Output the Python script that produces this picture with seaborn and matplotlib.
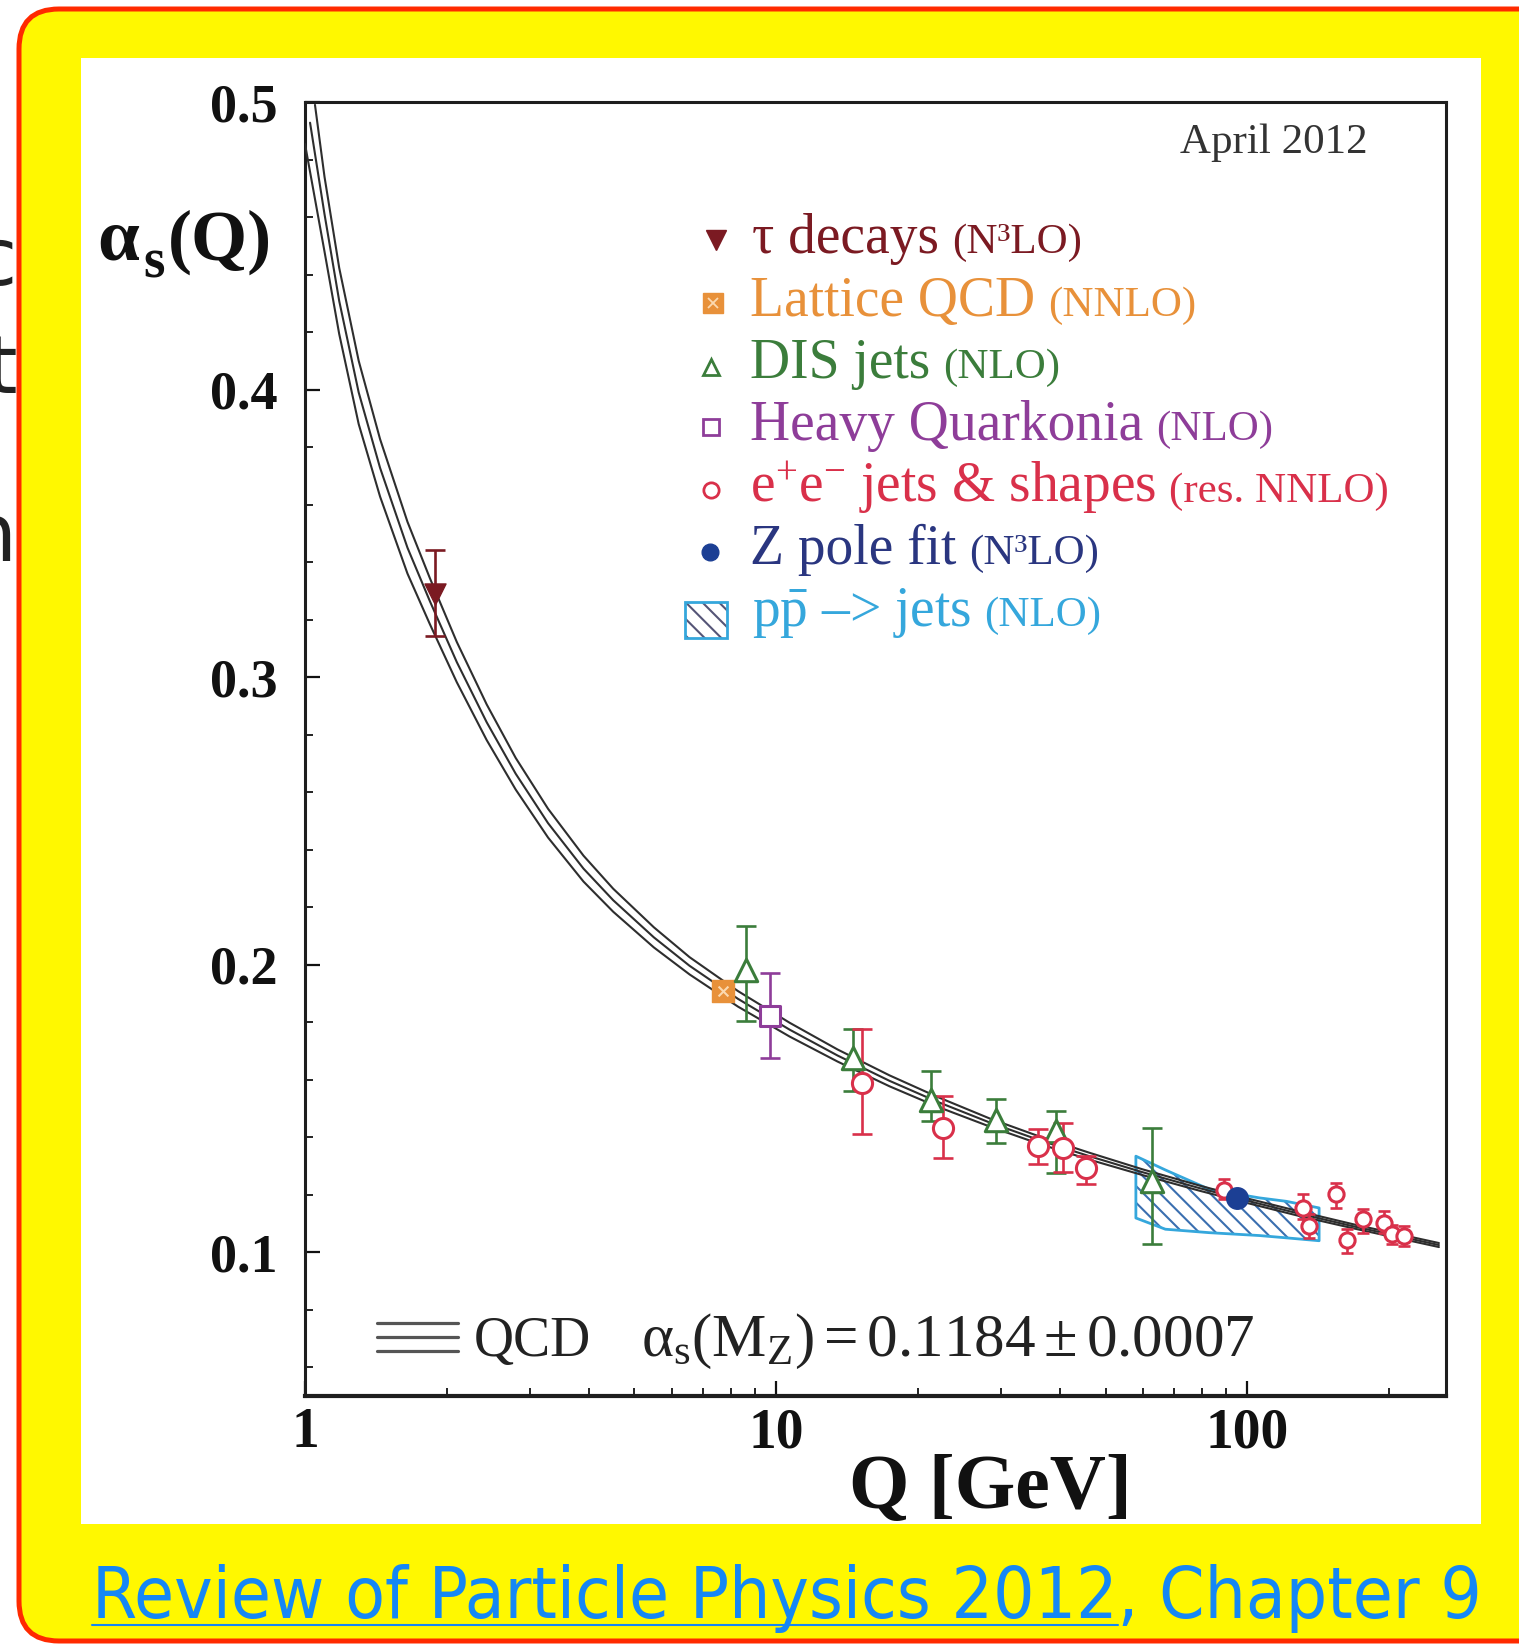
import numpy as np
import matplotlib
matplotlib.use("Agg")
import matplotlib.pyplot as plt
import seaborn as sns
from matplotlib.patches import FancyBboxPatch, Rectangle
from matplotlib.transforms import IdentityTransform
from matplotlib.lines import Line2D
from matplotlib.ticker import MultipleLocator, LogLocator, NullFormatter

W, H = 1519, 1645

# ---------------- data ----------------
# QCD running coupling: three lines (lower edge, central, upper edge)
Q_curve = [1.1, 1.182, 1.3, 1.443, 1.65, 1.841, 2.1, 2.43, 2.8, 3.28, 3.9, 4.51,
           5.5, 6.55, 8.3, 10.68, 13.5, 17.4, 22, 28.4, 36, 46.2, 60, 79.1,
           100, 128.9, 170, 255]
alpha_mid = [0.461, 0.4308, 0.399, 0.3728, 0.345, 0.3264, 0.3052, 0.2843, 0.2664,
             0.2492, 0.2334, 0.2224, 0.2095, 0.1996, 0.1881, 0.1774, 0.1684,
             0.1596, 0.1523, 0.1451, 0.1391, 0.1334, 0.1278, 0.1223, 0.1179,
             0.1134, 0.1088, 0.1025]
alpha_lo = [0.448, 0.4193, 0.388, 0.3628, 0.336, 0.3184, 0.2982, 0.2781, 0.2609,
            0.2442, 0.2289, 0.2184, 0.2060, 0.1966, 0.1854, 0.1750, 0.1663,
            0.1577, 0.1506, 0.1437, 0.1378, 0.1322, 0.1268, 0.1214, 0.1171,
            0.1126, 0.1081, 0.1018]
alpha_hi = [0.474, 0.4423, 0.410, 0.3828, 0.354, 0.3344, 0.3122, 0.2905, 0.2719,
            0.2542, 0.2379, 0.2264, 0.2130, 0.2026, 0.1908, 0.1798, 0.1705,
            0.1615, 0.1540, 0.1465, 0.1404, 0.1346, 0.1288, 0.1232, 0.1187,
            0.1142, 0.1095, 0.1032]
Q_start = [1.0, 1.025, 1.05]          # first point of lo / mid / hi line
alpha_start = [0.4854, 0.4928, 0.499]

# tau decays
tau_Q = [1.887]
tau_a = [0.3288]
tau_lo = [0.3143]
tau_hi = [0.3442]
# Lattice QCD
lat_Q = [7.71]
lat_a = [0.1908]
# DIS jets
dis_Q = [8.62, 14.55, 21.3, 29.3, 39.3, 62.6]
dis_a = [0.1983, 0.1676, 0.1531, 0.1460, 0.1420, 0.1247]
dis_lo = [0.1804, 0.1560, 0.1456, 0.1380, 0.1276, 0.1028]
dis_hi = [0.2134, 0.1775, 0.1630, 0.1532, 0.1490, 0.1432]
# Heavy quarkonia
hq_Q = [9.69]
hq_a = [0.182]
hq_lo = [0.1676]
hq_hi = [0.1972]
# e+e- jets & shapes
ee_Q = [15.2, 22.6, 35.9, 40.6, 45.5, 89.4, 131, 135, 154, 162.5, 175.7, 195, 203, 215]
ee_a = [0.1589, 0.1432, 0.1369, 0.1363, 0.1293, 0.1218, 0.1154, 0.1090, 0.1201,
        0.1041, 0.1114, 0.1102, 0.1062, 0.1056]
ee_lo = [0.1410, 0.1328, 0.1306, 0.1280, 0.1236, 0.1185, 0.1115, 0.1050, 0.1154,
         0.0998, 0.1067, 0.1067, 0.1027, 0.1021]
ee_hi = [0.1776, 0.1543, 0.1428, 0.1450, 0.1334, 0.1254, 0.1201, 0.1132, 0.1241,
         0.1080, 0.1149, 0.1143, 0.1096, 0.1091]
# Z pole fit
z_Q = [95]
z_a = [0.1189]
# p pbar -> jets band
pp_Q = [58, 67, 83, 106, 121, 142]
pp_lo = [0.1119, 0.1080, 0.1068, 0.1058, 0.1050, 0.1040]
pp_hi = [0.1334, 0.1286, 0.1219, 0.1189, 0.1177, 0.1154]

y_ticks = [0.1, 0.2, 0.3, 0.4, 0.5]
y_ticklabels = ["0.1", "0.2", "0.3", "0.4", "0.5"]
x_ticks = [1, 10, 100]
x_ticklabels = ["1", "10", "100"]

legend_main = ["τ decays", "Lattice QCD", "DIS jets", "Heavy Quarkonia",
               r"e$^{+}$e$^{-}$ jets & shapes", "Z pole fit", r"p$\bar{\mathrm{p}}$ –> jets"]
legend_order = ["(N³LO)", "(NNLO)", "(NLO)", "(NLO)", "(res. NNLO)", "(N³LO)", "(NLO)"]

# ---------------- style ----------------
sns.set_theme(style="white")
plt.rcParams["font.family"] = ["Liberation Serif", "DejaVu Serif"]
plt.rcParams["mathtext.fontset"] = "custom"
plt.rcParams["mathtext.rm"] = "Liberation Serif"
plt.rcParams["mathtext.it"] = "Liberation Serif:italic"
plt.rcParams["mathtext.bf"] = "Liberation Serif:bold"
plt.rcParams["hatch.linewidth"] = 1.5

C_TAU = "#7b1a22"
C_LAT = "#e8913a"
C_DIS = "#3b7d3b"
C_HQ = "#8e3d99"
C_EE = "#d9304a"
C_Z = "#1c3f94"
C_ZT = "#2a3680"
C_PP = "#35a7dc"
C_PPH = "#3a6fb0"
C_CURVE = "#2e2e2e"

fig = plt.figure(figsize=(W / 100, H / 100), dpi=100)
fig.patch.set_facecolor("white")
PX = IdentityTransform()


def fx(x):
    return x / W


def fy(y):
    return 1 - y / H


# fragments of slide text at the very left edge (cut off in the original too)
for ch, yb in (("c", 285), ("t", 393), ("n", 561)):
    fig.text(fx(17), fy(yb), ch, ha="right", va="baseline", fontsize=58,
             family="DejaVu Sans", color="#222222", zorder=0)

# yellow rounded box with red border
box = FancyBboxPatch((19, H - 1641), 1560 - 19, 1641 - 9,
                     boxstyle="round,pad=0,rounding_size=40", transform=PX,
                     facecolor="#fff800", edgecolor="#ff2a00", linewidth=3.6, zorder=1)
fig.add_artist(box)
# white panel
panel = Rectangle((81, H - 1524), 1400, 1466, transform=PX, facecolor="white",
                  edgecolor="none", zorder=2)
fig.add_artist(panel)

# ---------------- axes ----------------
ax = fig.add_axes([fx(305), fy(1396), (1446 - 305) / W, (1396 - 102) / H])
ax.set_zorder(5)
ax.patch.set_alpha(0)
ax.set_xscale("log")
ax.set_xlim(1, 264)
ax.set_ylim(0.05, 0.5)

# p pbar band (hatch then outline)
ax.fill_between(pp_Q, pp_lo, pp_hi, facecolor="none", edgecolor=C_PPH, hatch="\\\\",
                linewidth=0, zorder=2)
ax.fill_between(pp_Q, pp_lo, pp_hi, facecolor="none", edgecolor=C_PP,
                linewidth=2.0, zorder=2.1)

# QCD curves
for i, arr in enumerate((alpha_lo, alpha_mid, alpha_hi)):
    sns.lineplot(x=[Q_start[i]] + Q_curve, y=[alpha_start[i]] + arr, ax=ax,
                 color=C_CURVE, linewidth=1.5, estimator=None, sort=False,
                 legend=False, zorder=3)


def ebar(Q, a, lo, hi, color, cap, lw=1.9):
    Q = np.asarray(Q, float)
    a = np.asarray(a, float)
    ax.errorbar(Q, a, yerr=[a - np.asarray(lo), np.asarray(hi) - a], fmt="none",
                ecolor=color, elinewidth=lw, capsize=cap, capthick=lw, zorder=4)


ebar(tau_Q, tau_a, tau_lo, tau_hi, C_TAU, 7)
ebar(dis_Q, dis_a, dis_lo, dis_hi, C_DIS, 7)
ebar(hq_Q, hq_a, hq_lo, hq_hi, C_HQ, 7)
ee_Q_arr = np.array(ee_Q)
big = ee_Q_arr < 60
ebar(ee_Q_arr[big], np.array(ee_a)[big], np.array(ee_lo)[big], np.array(ee_hi)[big], C_EE, 7)
ebar(ee_Q_arr[~big], np.array(ee_a)[~big], np.array(ee_lo)[~big], np.array(ee_hi)[~big], C_EE, 4.5)

sns.scatterplot(x=tau_Q, y=tau_a, ax=ax, marker="v", s=230, color=C_TAU,
                edgecolor=C_TAU, linewidth=1, zorder=6, legend=False)
sns.scatterplot(x=lat_Q, y=lat_a, ax=ax, marker="s", s=260, color=C_LAT,
                edgecolor=C_LAT, linewidth=1, zorder=6, legend=False)
sns.scatterplot(x=lat_Q, y=lat_a, ax=ax, marker="x", s=50, color="#fbd9b0",
                linewidth=1.5, zorder=7, legend=False)
sns.scatterplot(x=dis_Q, y=dis_a, ax=ax, marker="^", s=260, color="white",
                edgecolor=C_DIS, linewidth=2.2, zorder=6, legend=False)
sns.scatterplot(x=hq_Q, y=hq_a, ax=ax, marker="s", s=220, color="white",
                edgecolor=C_HQ, linewidth=2.2, zorder=6, legend=False)
sns.scatterplot(x=ee_Q_arr[big], y=np.array(ee_a)[big], ax=ax, marker="o", s=210,
                color="white", edgecolor=C_EE, linewidth=2.2, zorder=6, legend=False)
sns.scatterplot(x=ee_Q_arr[~big], y=np.array(ee_a)[~big], ax=ax, marker="o", s=120,
                color="white", edgecolor=C_EE, linewidth=2.2, zorder=6, legend=False)
sns.scatterplot(x=z_Q, y=z_a, ax=ax, marker="o", s=240, color=C_Z,
                edgecolor=C_Z, linewidth=1, zorder=7, legend=False)

# ticks and spines
ax.set_xticks(x_ticks)
ax.set_xticklabels(x_ticklabels, fontsize=40, fontweight="bold", color="#111111")
ax.xaxis.set_minor_locator(LogLocator(base=10, subs=np.arange(2, 10)))
ax.xaxis.set_minor_formatter(NullFormatter())
ax.set_yticks(y_ticks)
ax.set_yticklabels(y_ticklabels, fontsize=39, fontweight="bold", color="#111111")
ax.yaxis.set_minor_locator(MultipleLocator(0.02))
ax.tick_params(axis="both", which="major", direction="in", length=11, width=1.6,
               color="#111111", top=False, right=False, bottom=True, left=True)
ax.tick_params(axis="both", which="minor", direction="in", length=6, width=1.3,
               color="#111111", top=False, right=False, bottom=True, left=True)
ax.tick_params(axis="y", which="major", pad=20)
ax.tick_params(axis="x", which="major", pad=8)
for name, sp in ax.spines.items():
    sp.set_visible(True)
    sp.set_color("#1e1e1e")
    sp.set_linewidth(3.0 if name == "bottom" else 2.2)
ax.set_xlabel("")
ax.set_ylabel("")

# axis labels
fig.text(fx(990), fy(1508), "Q [GeV]", ha="center", va="baseline", fontsize=56,
         fontweight="bold", color="#111111", zorder=10)
fig.text(fx(97), fy(260), "α", ha="left", va="baseline", fontsize=54,
         fontweight="bold", color="#111111", zorder=10)
fig.text(fx(143), fy(278), "s", ha="left", va="baseline", fontsize=40,
         fontweight="bold", color="#111111", zorder=10)
fig.text(fx(168), fy(260), "(Q)", ha="left", va="baseline", fontsize=52,
         fontweight="bold", color="#111111", zorder=10)

# date
fig.text(fx(1180), fy(153), "April 2012", ha="left", va="baseline", fontsize=31,
         color="#333333", zorder=10)

# legend
renderer = fig.canvas.get_renderer()
row_base = [253, 316, 378, 440, 502, 564, 626]
row_col = [C_TAU, C_LAT, C_DIS, C_HQ, C_EE, C_ZT, C_PP]
text_x = [752, 750, 750, 750, 750, 750, 752]
for i in range(7):
    t = fig.text(fx(text_x[i]), fy(row_base[i]), legend_main[i], ha="left",
                 va="baseline", fontsize=40, color=row_col[i], zorder=10)
    bb = t.get_window_extent(renderer)
    fig.text((bb.x1 + 13) / W, fy(row_base[i]), legend_order[i], ha="left",
             va="baseline", fontsize=31, color=row_col[i], zorder=10)

lm = dict(transform=PX, zorder=10, linestyle="none")
fig.add_artist(Line2D([716], [H - 240], marker="v", markersize=15, color=C_TAU,
                      markeredgecolor=C_TAU, **lm))
fig.add_artist(Line2D([713], [H - 303], marker="s", markersize=14, color=C_LAT,
                      markeredgecolor=C_LAT, **lm))
fig.add_artist(Line2D([713], [H - 303], marker="x", markersize=7, color="#fbd9b0",
                      markeredgewidth=1.3, **lm))
fig.add_artist(Line2D([711], [H - 367], marker="^", markersize=12, color="white",
                      markeredgecolor=C_DIS, markeredgewidth=2, **lm))
fig.add_artist(Line2D([711], [H - 427], marker="s", markersize=11, color="white",
                      markeredgecolor=C_HQ, markeredgewidth=2, **lm))
fig.add_artist(Line2D([711], [H - 490], marker="o", markersize=11, color="white",
                      markeredgecolor=C_EE, markeredgewidth=2, **lm))
fig.add_artist(Line2D([710], [H - 552], marker="o", markersize=12, color=C_Z,
                      markeredgecolor=C_Z, **lm))
fig.add_artist(Rectangle((685, H - 638), 42, 36, transform=PX, facecolor="none",
                         edgecolor="#555577", hatch="\\\\", linewidth=0, zorder=10))
fig.add_artist(Rectangle((685, H - 638), 42, 36, transform=PX, facecolor="none",
                         edgecolor=C_PP, linewidth=2, zorder=10))

# QCD band symbol and formula
for yy in (1323, 1337, 1351):
    fig.add_artist(Line2D([377, 458], [H - yy, H - yy], transform=PX, color="#555555",
                          linewidth=2.3, zorder=10))
fig.text(fx(474), fy(1356), "QCD", ha="left", va="baseline", fontsize=40,
         color="#222222", zorder=10)
fig.text(fx(641), fy(1356), r"$\mathrm{\alpha_s(M_Z)} = 0.1184 \pm 0.0007$", ha="left",
         va="baseline", fontsize=44, color="#222222", zorder=10)

# caption with underline
cap_str = "Review of Particle Physics 2012, Chapter 9"
cap_kw = dict(family="DejaVu Sans", fontstretch="condensed")
cap = fig.text(fx(92), fy(1618), cap_str, ha="left", va="baseline", fontsize=50,
               color="#1587f5", zorder=10, **cap_kw)
bb = cap.get_window_extent(renderer)
fs = 50 * (1483 - 92) / bb.width
cap.set_fontsize(fs)
probe = fig.text(fx(92), fy(1618), "Review of Particle Physics 2012", ha="left",
                 va="baseline", fontsize=fs, color="none", **cap_kw)
pb = probe.get_window_extent(renderer)
probe.remove()
fig.add_artist(Line2D([92, pb.x1], [H - 1625, H - 1625], transform=PX,
                      color="#1587f5", linewidth=1.5, zorder=10))

fig.savefig("out.png", dpi=100, facecolor=fig.get_facecolor())
